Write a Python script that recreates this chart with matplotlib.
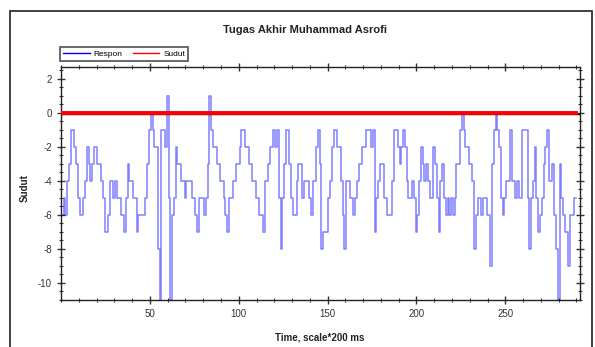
import matplotlib
matplotlib.use("Agg")
import matplotlib.pyplot as plt
from matplotlib.patches import Rectangle
from matplotlib.ticker import MultipleLocator
import numpy as np

plt.rcParams["axes.unicode_minus"] = False

title = "Tugas Akhir Muhammad Asrofi"
x_label = "Time, scale*200 ms"
y_label = "Sudut"
series_names = ["Respon", "Sudut"]

respon = [
    -6, -5, -6, -4, -3, -1, -1, -2, -3, -5,
    -6, -6, -5, -4, -2, -3, -4, -3, -2, -2,
    -3, -3, -4, -5, -7, -7, -6, -4, -4, -5,
    -4, -5, -5, -6, -6, -7, -5, -3, -4, -4,
    -5, -5, -7, -6, -6, -6, -6, -5, -3, -1,
    0, -1, -2, -2, -8, -11, -1, -1, -2, 1,
    -5, -11, -6, -5, -2, -3, -3, -4, -4, -5,
    -4, -4, -4, -5, -5, -6, -7, -5, -5, -5,
    -6, -5, -3, 1, -1, -2, -2, -3, -3, -4,
    -4, -5, -6, -7, -5, -5, -4, -4, -3, -3,
    -2, -1, -1, -2, -2, -3, -3, -4, -4, -5,
    -5, -6, -6, -7, -4, -4, -3, -2, -2, -1,
    -2, -1, -5, -8, -5, -3, -1, -1, -3, -5,
    -6, -6, -4, -3, -3, -5, -4, -4, -4, -5,
    -6, -4, -4, -2, -1, -3, -8, -7, -7, -7,
    -5, -4, -2, -1, -1, -2, -2, -4, -6, -8,
    -4, -4, -5, -5, -6, -5, -4, -3, -3, -2,
    -2, -1, -1, -1, -2, -1, -7, -5, -4, -3,
    -3, -5, -5, -6, -6, -6, -4, -1, -1, -2,
    -3, -2, -1, -2, -4, -5, -5, -4, -5, -7,
    -6, -4, -2, -3, -4, -3, -4, -5, -5, -2,
    -3, -5, -7, -4, -3, -5, -6, -5, -6, -5,
    -6, -5, -3, -3, -1, 0, -1, -2, -2, -3,
    -3, -4, -8, -6, -5, -5, -6, -5, -5, -6,
    -6, -9, -3, -1, 0, -1, -2, -5, -6, -5,
    -4, -4, -1, -4, -4, -5, -4, -5, -5, -1,
    -1, -1, -5, -8, -5, -4, -2, -5, -7, -6,
    -5, -3, -2, -1, -4, -4, -3, -6, -8, -11,
    -3, -5, -6, -7, -7, -9, -6, -6, -5, -5,
]
sudut = [0] * len(respon)
time = np.arange(1, len(respon) + 1)

W, H = 595, 347
fig = plt.figure(figsize=(W / 100, H / 100), dpi=100)
fig.patch.set_facecolor("white")

# outer frame
fig.patches.append(Rectangle((10 / W, -0.02), (592 - 10) / W, (H - 11) / H + 0.02,
                             transform=fig.transFigure, fill=False,
                             edgecolor="#333333", lw=1.3))

ax = fig.add_axes([61 / W, 1 - 300 / H, (580 - 61) / W, (300 - 67) / H])

lr, = ax.plot(time, respon, drawstyle="steps-mid", color="#0000ff",
              alpha=0.5, lw=1.1, zorder=2)
ax.axhline(-0.09, color="black", lw=1.0, zorder=3)
ls, = ax.plot(time, sudut, color="#ff0000", lw=2.8, zorder=4)

ax.set_xlim(0, 292)
ax.set_ylim(-11, 2.7)
ax.xaxis.set_major_locator(MultipleLocator(50))
ax.xaxis.set_minor_locator(MultipleLocator(10))
ax.yaxis.set_major_locator(MultipleLocator(2))
ax.yaxis.set_minor_locator(MultipleLocator(0.5))
ax.set_xticks([50, 100, 150, 200, 250])

fam = ["Liberation Sans Narrow", "Liberation Sans", "DejaVu Sans"]
ax.tick_params(which="both", direction="inout", top=True, right=True,
               labelsize=7, labelcolor="#333333", colors="#333333")
ax.tick_params(which="major", length=6, width=1)
ax.tick_params(which="minor", length=3, width=0.8)
for lab in ax.get_xticklabels() + ax.get_yticklabels():
    lab.set_family(fam)
for s in ax.spines.values():
    s.set_color("#222222")
    s.set_linewidth(1)

fig.text(305 / W, 1 - 30 / H, title, ha="center", va="center",
         fontsize=8, fontweight="bold", family=fam, color="#222222")
fig.text(320 / W, 1 - 337 / H, x_label, ha="center", va="center",
         fontsize=7, fontweight="bold", family=fam, color="#222222")
fig.text(25 / W, 1 - 188 / H, y_label, ha="center", va="center",
         rotation=90, fontsize=7, fontweight="bold", family=fam, color="#222222")

leg = fig.legend([lr, ls], series_names, loc="lower left",
                 bbox_to_anchor=(60 / W, 1 - 61 / H), ncol=2,
                 prop={"family": fam, "size": 6}, frameon=True, fancybox=False,
                 edgecolor="#222222", handlelength=3.2, columnspacing=1.2,
                 borderpad=0.35, handletextpad=0.5, borderaxespad=0)
leg.get_frame().set_linewidth(1.2)
leg.legend_handles[0].set_alpha(1)
leg.legend_handles[0].set_linewidth(1)
leg.legend_handles[1].set_linewidth(1)

fig.savefig("out.png", dpi=100)
